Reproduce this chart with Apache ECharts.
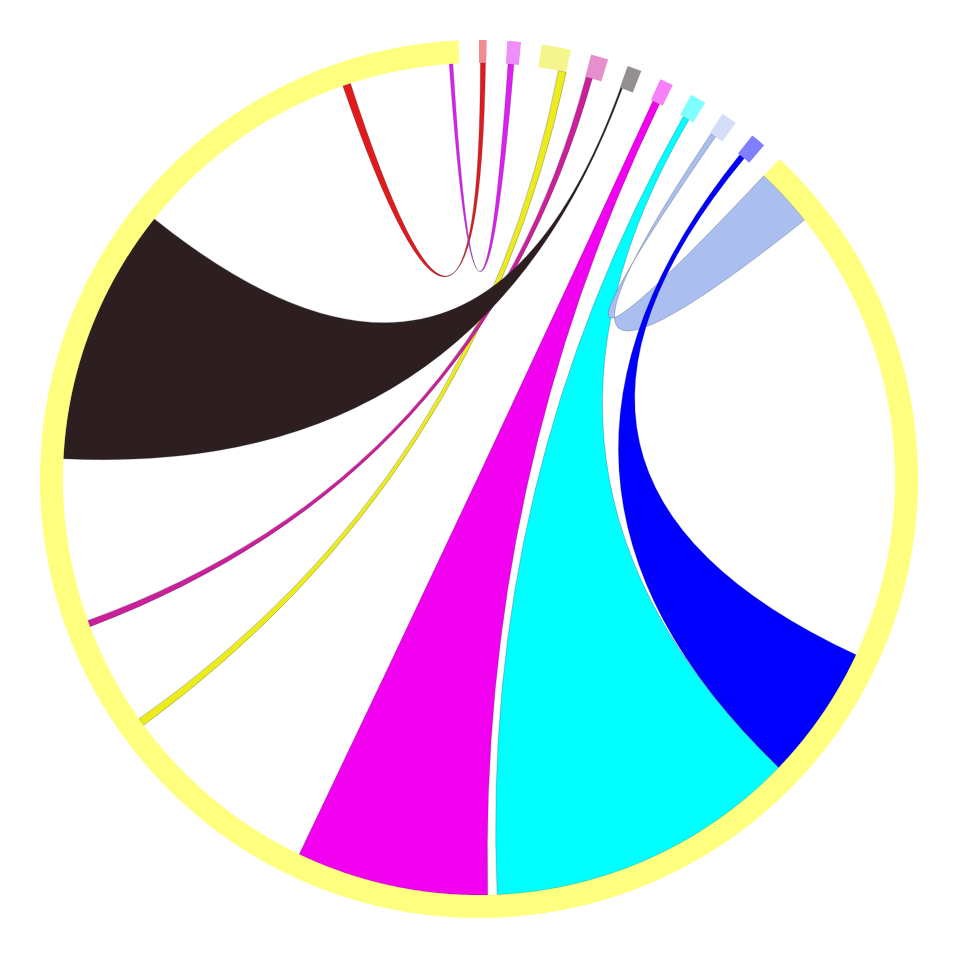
<!DOCTYPE html>
<html>
<head>
<meta charset="utf-8">
<title>Chord</title>
<script src="https://cdn.jsdelivr.net/npm/echarts@6.0.0/dist/echarts.min.js"></script>
<style>
html, body { margin: 0; padding: 0; background: #fff; }
#main { width: 960px; height: 960px; }
</style>
</head>
<body>
<div id="main"></div>
<script>
// nodes, clockwise from the top; J is the big hub arc
var nodeNames = ['A', 'B', 'C', 'D', 'E', 'F', 'G', 'H', 'I', 'J'];
var nodeColors = ['#e11b1c', '#de1ef2', '#ecec1c', '#cc1f9a', '#2d1f1f', '#f200f0', '#00ffff', '#aabff0', '#0000ff', '#ffff00'];
var nodeValues = [1.0, 1.8, 3.9, 2.3, 1.9, 1.8, 2.1, 2.1, 2.0, 314.1];
var padAngle = 2.7;
var hubName = 'J';

// links from the hub, in the order they sit along the hub arc
var linkTargets = ['H', 'I', 'G', 'F', 'C', 'D', 'E', 'A', 'B'];
var hubGaps = [0, 63.5, 0, 1.3, 28.1, 14.4, 22.7, 32.2, 13.9];
var hubValues = [8.3, 18.9, 43.6, 26.8, 1.1, 0.9, 35.9, 1.1, 0.5];
var targetOffsets = [0.2, 0.3, 0.5, 0.3, 2.8, 0.1, 0.1, 0.2, 0.3];
var targetValues = [0.75, 0.8, 0.9, 1.0, 1.1, 0.9, 0.25, 0.7, 0.8];

var innerR = 416 / 439;

//---------------------------------------------------------------
var nodeStart = {}, nodeEnd = {};
var acc = 0;
for (var i = 0; i < nodeNames.length; i++) {
	nodeStart[nodeNames[i]] = acc;
	nodeEnd[nodeNames[i]] = acc + nodeValues[i];
	acc += nodeValues[i] + padAngle;
}

var nodeData = [];
for (var i = 0; i < nodeNames.length; i++) {
	nodeData.push({ name: nodeNames[i], value: [nodeStart[nodeNames[i]], nodeEnd[nodeNames[i]]] });
}

var ribbonData = [];
var pos = nodeStart[hubName];
for (var k = 0; k < linkTargets.length; k++) {
	pos += hubGaps[k];
	var t = linkTargets[k];
	var b0 = nodeStart[t] + targetOffsets[k];
	ribbonData.push({ name: t, value: [pos, pos + hubValues[k], b0, b0 + targetValues[k]] });
	pos += hubValues[k];
}
// draw in node order so later ribbons sit on top
ribbonData.sort(function (a, b) { return nodeNames.indexOf(a.name) - nodeNames.indexOf(b.name); });

function arcPoints(api, r, from, to) {
	var pts = [];
	var n = Math.max(2, Math.ceil(Math.abs(to - from) / 0.2) + 1);
	for (var i = 0; i < n; i++) {
		pts.push(api.coord([r, from + (to - from) * i / (n - 1)]));
	}
	return pts;
}
function pt(p) {
	return p[0].toFixed(2) + ' ' + p[1].toFixed(2);
}

function renderRibbon(params, api) {
	var c = api.coord([0, 0]);
	var s = arcPoints(api, innerR, api.value(0), api.value(1));
	var t = arcPoints(api, innerR, api.value(2), api.value(3));
	var d = 'M' + s.map(pt).join('L')
		+ 'Q' + pt(c) + ' ' + t.map(pt).join('L')
		+ 'Q' + pt(c) + ' ' + pt(s[0]) + 'Z';
	var color = nodeColors[nodeNames.indexOf(ribbonData[params.dataIndex].name)];
	return {
		type: 'path',
		shape: { pathData: d },
		style: { fill: color, stroke: 'rgba(40,40,70,0.45)', lineWidth: 0.6 }
	};
}

function renderNode(params, api) {
	var outer = arcPoints(api, 1, api.value(0), api.value(1));
	var inner = arcPoints(api, innerR, api.value(1), api.value(0));
	return {
		type: 'polygon',
		shape: { points: outer.concat(inner) },
		style: { fill: nodeColors[params.dataIndex], opacity: 0.5 }
	};
}

var mychart = echarts.init(document.getElementById('main'));
mychart.setOption({
	animation: false,
	polar: { center: [479, 479], radius: 439 },
	angleAxis: { type: 'value', min: 0, max: 360, startAngle: 90, clockwise: true, show: false },
	radiusAxis: { type: 'value', min: 0, max: 1, show: false },
	series: [
		{
			name: 'links',
			type: 'custom',
			coordinateSystem: 'polar',
			silent: true,
			renderItem: renderRibbon,
			data: ribbonData
		},
		{
			name: 'nodes',
			type: 'custom',
			coordinateSystem: 'polar',
			silent: true,
			renderItem: renderNode,
			data: nodeData
		}
	]
});
</script>
</body>
</html>
